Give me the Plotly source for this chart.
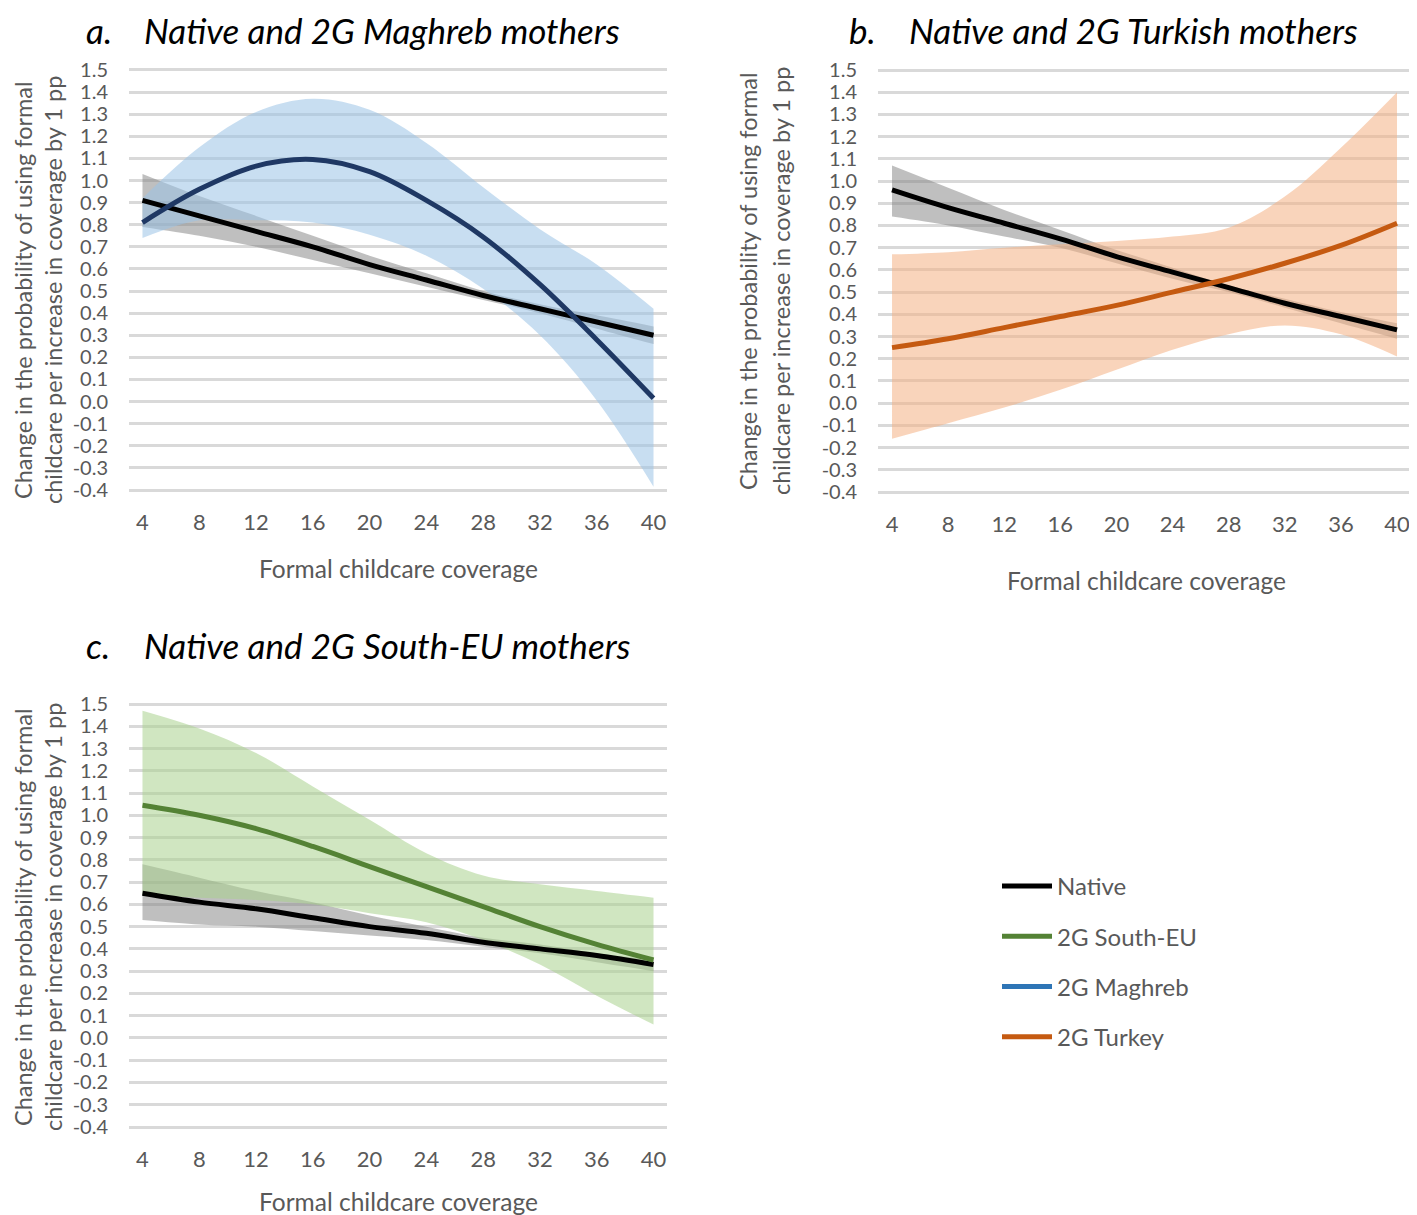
import plotly.graph_objects as go

W, H = 1417, 1215
OFF = 8  # page body margin shifts the figure by this many pixels

coverage = [4, 8, 12, 16, 20, 24, 28, 32, 36, 40]

# Panel a: Native vs 2G Maghreb
native_a = [0.91, 0.84, 0.77, 0.70, 0.62, 0.55, 0.48, 0.42, 0.36, 0.30]
native_a_hi = [1.03, 0.93, 0.84, 0.75, 0.66, 0.58, 0.50, 0.44, 0.39, 0.34]
native_a_lo = [0.79, 0.75, 0.70, 0.64, 0.58, 0.52, 0.46, 0.40, 0.33, 0.26]
maghreb = [0.81, 0.96, 1.065, 1.095, 1.04, 0.91, 0.745, 0.53, 0.28, 0.015]
maghreb_hi = [0.92, 1.15, 1.31, 1.37, 1.32, 1.17, 0.97, 0.78, 0.62, 0.42]
maghreb_lo = [0.74, 0.82, 0.82, 0.81, 0.755, 0.66, 0.51, 0.30, 0.005, -0.385]

# Panel b: Native vs 2G Turkey
native_b = [0.96, 0.88, 0.81, 0.74, 0.66, 0.59, 0.52, 0.45, 0.39, 0.33]
native_b_hi = [1.07, 0.97, 0.87, 0.78, 0.69, 0.61, 0.53, 0.47, 0.41, 0.36]
native_b_lo = [0.84, 0.80, 0.75, 0.70, 0.63, 0.56, 0.50, 0.43, 0.36, 0.29]
turkey = [0.25, 0.29, 0.34, 0.39, 0.44, 0.50, 0.56, 0.63, 0.71, 0.81]
turkey_hi = [0.67, 0.68, 0.70, 0.715, 0.73, 0.75, 0.79, 0.93, 1.15, 1.40]
turkey_lo = [-0.16, -0.09, -0.02, 0.06, 0.15, 0.24, 0.31, 0.35, 0.31, 0.21]

# Panel c: Native vs 2G South-EU
native_c = [0.65, 0.61, 0.58, 0.54, 0.50, 0.47, 0.43, 0.40, 0.37, 0.33]
native_c_hi = [0.78, 0.72, 0.66, 0.61, 0.55, 0.50, 0.45, 0.42, 0.38, 0.35]
native_c_lo = [0.53, 0.51, 0.50, 0.48, 0.46, 0.44, 0.41, 0.38, 0.34, 0.30]
southeu = [1.045, 1.00, 0.94, 0.86, 0.77, 0.68, 0.59, 0.50, 0.42, 0.35]
southeu_hi = [1.47, 1.39, 1.28, 1.13, 0.98, 0.83, 0.73, 0.69, 0.66, 0.63]
southeu_lo = [0.64, 0.63, 0.62, 0.60, 0.56, 0.52, 0.44, 0.33, 0.19, 0.06]

y_ticks = [round(-0.4 + 0.1 * i, 1) for i in range(20)]
y_ticktext = [f"{v:.1f}" for v in y_ticks]
x_ticks = coverage

FONT = "Lato, Carlito, Calibri, sans-serif"
GREY_TXT = "#595959"

C_NATIVE = "#000000"
C_MAGHREB_LINE = "#1F3864"
C_MAGHREB_LEG = "#2E75B6"
C_TURKEY = "#C55A11"
C_SOUTHEU = "#548235"

B_NATIVE = "rgba(128,128,128,0.5)"
B_MAGHREB = "rgba(155,194,230,0.55)"
B_TURKEY = "rgba(244,177,131,0.55)"
B_SOUTHEU = "rgba(169,209,142,0.55)"

fig = go.Figure()


def band(hi, lo, color, xa, ya):
    fig.add_trace(go.Scatter(x=coverage, y=hi, mode="lines", line=dict(width=0, shape="spline"),
                             xaxis=xa, yaxis=ya, showlegend=False, hoverinfo="skip"))
    fig.add_trace(go.Scatter(x=coverage, y=lo, mode="lines", line=dict(width=0, shape="spline"),
                             fill="tonexty", fillcolor=color, xaxis=xa, yaxis=ya,
                             showlegend=False, hoverinfo="skip"))


def line(y, color, xa, ya, name=None, show=False, rank=None):
    fig.add_trace(go.Scatter(x=coverage, y=y, mode="lines",
                             line=dict(width=5, color=color, shape="spline"),
                             xaxis=xa, yaxis=ya, name=name, showlegend=show,
                             legendgroup=name, legendrank=rank if rank else 1000))


# Panel a
band(native_a_hi, native_a_lo, B_NATIVE, "x", "y")
band(maghreb_hi, maghreb_lo, B_MAGHREB, "x", "y")
line(native_a, C_NATIVE, "x", "y")
line(maghreb, C_MAGHREB_LINE, "x", "y")

# Panel b
band(native_b_hi, native_b_lo, B_NATIVE, "x2", "y2")
band(turkey_hi, turkey_lo, B_TURKEY, "x2", "y2")
line(native_b, C_NATIVE, "x2", "y2")
line(turkey, C_TURKEY, "x2", "y2", name="2G Turkey", show=True, rank=4)

# Panel c
band(native_c_hi, native_c_lo, B_NATIVE, "x3", "y3")
band(southeu_hi, southeu_lo, B_SOUTHEU, "x3", "y3")
line(native_c, C_NATIVE, "x3", "y3", name="Native", show=True, rank=1)
line(southeu, C_SOUTHEU, "x3", "y3", name="2G South-EU", show=True, rank=2)

# legend-only key for Maghreb (legend colour differs from panel line)
fig.add_trace(go.Scatter(x=[None], y=[None], mode="lines",
                         line=dict(width=5, color=C_MAGHREB_LEG),
                         name="2G Maghreb", legendgroup="2G Maghreb", legendrank=3,
                         xaxis="x3", yaxis="y3"))


def px_x(p):
    return (p - OFF) / W


def px_y(p):
    return 1 - (p - OFF) / H


xcommon = dict(tickmode="array", tickvals=x_ticks, ticktext=[str(v) for v in x_ticks],
               showgrid=False, zeroline=False, showline=False, ticks="", automargin=False,
               tickfont=dict(family=FONT, size=22, color=GREY_TXT), ticklabelstandoff=15)
ycommon = dict(tickmode="array", tickvals=y_ticks, ticktext=y_ticktext,
               showgrid=True, gridcolor="#D9D9D9", gridwidth=2.5, zeroline=False,
               showline=False, ticks="", automargin=False,
               tickfont=dict(family=FONT, size=20, color=GREY_TXT), ticklabelstandoff=20)

fig.update_layout(
    width=W, height=H, margin=dict(l=0, r=0, t=0, b=0, autoexpand=False),
    paper_bgcolor="white", plot_bgcolor="white",
    font=dict(family=FONT, color=GREY_TXT),
    xaxis=dict(domain=[px_x(129), px_x(667)], range=[3.05, 40.95], anchor="y", **xcommon),
    yaxis=dict(domain=[px_y(492), px_y(68)], range=[-0.409, 1.509], anchor="x", **ycommon),
    xaxis2=dict(domain=[px_x(878), px_x(1409)], range=[3.0, 40.855], anchor="y2", **xcommon),
    yaxis2=dict(domain=[px_y(494), px_y(68)], range=[-0.409, 1.509], anchor="x2", **ycommon),
    xaxis3=dict(domain=[px_x(129), px_x(667)], range=[3.05, 40.95], anchor="y3", **xcommon),
    yaxis3=dict(domain=[px_y(1129), px_y(702)], range=[-0.409, 1.509], anchor="x3", **ycommon),
    legend=dict(x=px_x(997), y=px_y(864), xanchor="left", yanchor="top",
                font=dict(family=FONT, size=24, color=GREY_TXT),
                tracegroupgap=16, bgcolor="rgba(0,0,0,0)", itemwidth=50),
    showlegend=True,
)

ann = []


def title(letter, text, xl, xt, yc, top=False):
    for t, xx in ((letter, xl), (text, xt)):
        ann.append(dict(text=f"<i>{t}</i>", x=px_x(xx),
                        y=1.0 if top else px_y(yc), xref="paper", yref="paper",
                        xanchor="left", yanchor="top" if top else "middle", showarrow=False,
                        borderpad=0,
                        font=dict(family=FONT, size=35, color="#000000")))


def xtitle(xc, yc):
    ann.append(dict(text="Formal childcare coverage", x=px_x(xc), y=px_y(yc), xref="paper", yref="paper",
                    xanchor="center", yanchor="middle", showarrow=False,
                    font=dict(family=FONT, size=24.5, color=GREY_TXT)))


def ytitle(x1, x2, yc):
    for txt, xx in (("Change in the probability of using formal", x1),
                    ("childcare per increase in coverage by 1 pp", x2)):
        ann.append(dict(text=txt, x=px_x(xx), y=px_y(yc), xref="paper", yref="paper",
                        xanchor="center", yanchor="middle", showarrow=False, textangle=-90,
                        borderpad=0,
                        font=dict(family=FONT, size=23.5, color=GREY_TXT)))


title("a.", "Native and 2G Maghreb mothers", 85, 143, 14, top=True)
title("b.", "Native and 2G Turkish mothers", 848, 908, 14, top=True)
title("c.", "Native and 2G South-EU mothers", 85, 143, 645)
xtitle(398, 568)
xtitle(1146, 580)
xtitle(398, 1201)
ytitle(23, 53, 290)
ytitle(748, 781, 281)
ytitle(23, 53, 917)

fig.update_layout(annotations=ann)
fig.write_html("out.html")
